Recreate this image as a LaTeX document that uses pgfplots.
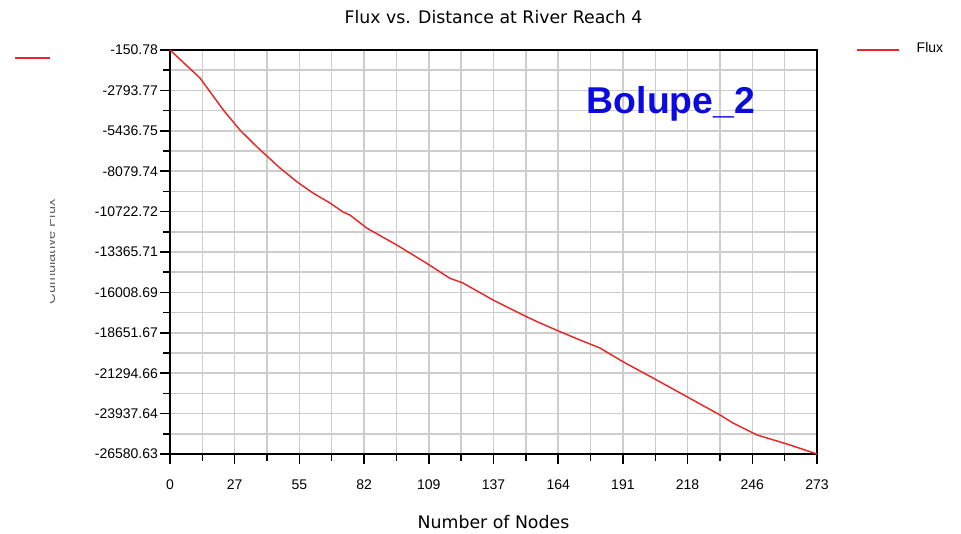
\documentclass[border=0pt]{standalone}
\usepackage{pgfplots}
\pgfplotsset{compat=1.18}
\usepackage{fontspec}
\setmainfont{Liberation Sans}
\newfontfamily\widefont{DejaVu Sans}
\definecolor{fluxred}{RGB}{232,40,40}
\definecolor{gridgray}{RGB}{205,205,205}
\definecolor{bolblue}{RGB}{10,10,225}
\begin{document}
\begin{tikzpicture}[x=0.75pt,y=0.75pt]
\path[use as bounding box] (0,0) rectangle (961,534);
\begin{axis}[
  at={(127.5pt,60pt)}, anchor=south west,
  scale only axis, width=485.25pt, height=303pt,
  xmin=0, xmax=273, ymin=-26580.63, ymax=-150.78,
  scaled y ticks=false, scaled x ticks=false,
  xtick={0,27.3,54.6,81.9,109.2,136.5,163.8,191.1,218.4,245.7,273},
  xticklabels={0,27,55,82,109,137,164,191,218,246,273},
  ytick={-26580.63,-23937.645,-21294.66,-18651.675,-16008.69,-13365.705,-10722.72,-8079.735,-5436.75,-2793.765,-150.78},
  yticklabels={-26580.63,-23937.64,-21294.66,-18651.67,-16008.69,-13365.71,-10722.72,-8079.74,-5436.75,-2793.77,-150.78},
  minor tick num=1,
  grid=both,
  every axis grid/.style={gridgray, line width=1.1pt},
  major grid style={gridgray, line width=1.1pt},
  minor grid style={gridgray, line width=1.1pt},
  tick align=outside, tick pos=left,
  major tick length=7.5pt, minor tick length=5pt,
  tick style={black, line width=1.1pt},
  axis line style={black, line width=1.1pt},
  /pgf/number format/assume math mode=true,
  ticklabel style={font=\fontsize{10.5}{12}\selectfont},
  xticklabel style={yshift=-8pt},
  yticklabel style={xshift=2pt},
  title={Flux vs. Distance at River Reach 4},
  title style={font=\widefont\fontsize{13}{15}\selectfont, yshift=10pt},
  xlabel={Number of Nodes},
  xlabel style={font=\widefont\fontsize{13}{15}\selectfont, yshift=-13pt},
  clip=false,
]
\addplot[fluxred, line width=1.1pt] coordinates {
(0,-150.78) (12.66,-1983) (22.5,-4076) (29.5,-5384) (36.6,-6477)
(46.4,-7870) (53.5,-8766) (60.3,-9506) (67.5,-10160) (73.0,-10749)
(75.9,-10945) (83.0,-11796) (84.4,-11926) (95.7,-12908) (108.3,-14105)
(118.1,-15086) (123.6,-15394) (136.3,-16506) (148.9,-17487) (154.9,-17926)
(164.6,-18580) (173.0,-19123) (181.4,-19646) (191.1,-20542) (203.8,-21609)
(218.1,-22832) (232.1,-24029) (237.5,-24552) (247.7,-25338) (260.3,-25926)
(273,-26580.63)
};
\end{axis}
% legend samples
\draw[fluxred, line width=1.1pt] (15,476) -- (50,476);
\draw[fluxred, line width=1.1pt] (857,484) -- (899,484);
\node[anchor=west, font=\fontsize{10.5}{12}\selectfont] at (912,486) {Flux};
% annotation
\node[anchor=center, font=\fontsize{28}{30}\bfseries, text=bolblue] at (671,430) {Bolupe\_2};
% partially hidden y label
\begin{scope}
\clip (50,150) rectangle (58,400);
\node[rotate=90, font=\fontsize{11}{12}\selectfont, text=black!60] at (50,282) {Cumulative Flux};
\end{scope}
\end{tikzpicture}
\end{document}
